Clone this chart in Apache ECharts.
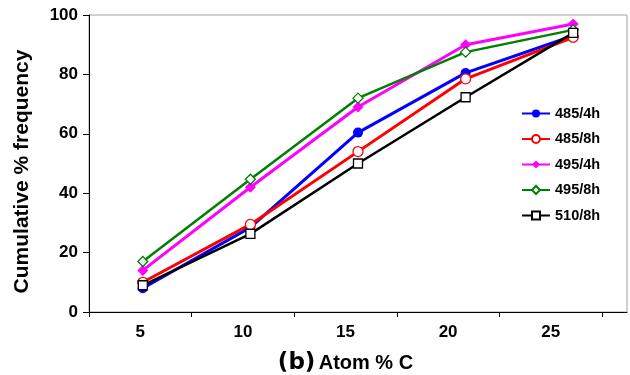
<!DOCTYPE html>
<html><head><meta charset="utf-8">
<script src="https://cdn.jsdelivr.net/npm/echarts@6/dist/echarts.min.js"></script>
<style>html,body{margin:0;padding:0;background:#fff}#c{width:630px;height:375px}</style>
</head><body><div id="c"></div>
<script>
var categories = ['5', '10', '15', '20', '25'];
var yTicks = [0, 20, 40, 60, 80, 100];
var s485_4h = [8, 28.5, 60.4, 80.5, 93];
var s485_8h = [10, 29.5, 54, 78.5, 92.5];
var s495_4h = [14, 42, 69, 90, 97];
var s495_8h = [17, 44.7, 72, 87.5, 95];
var s510_8h = [9, 26.3, 50, 72.3, 94];
var seriesNames = ['485/4h', '485/8h', '495/4h', '495/8h', '510/8h'];

var FONT = "'Liberation Sans', Arial, sans-serif";
var chart = echarts.init(document.getElementById('c'), null, {renderer: 'canvas'});

function mk(name, data, color, symbol, size, open, lw) {
  return {
    name: name, type: 'line', data: data, xAxisIndex: 0, yAxisIndex: 0,
    symbol: symbol, symbolSize: size, showSymbol: true,
    lineStyle: {color: color, width: lw},
    itemStyle: {color: open ? '#fff' : color, borderColor: color, borderWidth: open ? 1.3 : 0},
    emphasis: {disabled: true}, animation: false, z: 3
  };
}

chart.setOption({
  animation: false,
  textStyle: {fontFamily: FONT},
  grid: [
    {left: 89, top: 15, right: 3, bottom: 63, show: true, borderColor: '#a0a0a0', borderWidth: 1,
     containLabel: false, outerBoundsMode: 'none'},
    {left: 89, top: 15, width: 513, bottom: 63, show: false, containLabel: false, outerBoundsMode: 'none'}
  ],
  legend: {
    orient: 'vertical', left: 521, top: 106, padding: 0, itemWidth: 28, itemHeight: 10, itemGap: 10.5,
    data: seriesNames,
    textStyle: {fontFamily: FONT, fontWeight: 'bold', fontSize: 14.5, color: '#000'}
  },
  xAxis: [
    {gridIndex: 0, type: 'category', data: categories, boundaryGap: true,
     axisLine: {show: true, lineStyle: {color: '#000', width: 1}},
     axisTick: {show: false}, axisLabel: {show: false}, splitLine: {show: false}},
    {gridIndex: 1, type: 'category', data: categories, boundaryGap: true,
     axisLine: {show: false},
     axisTick: {show: true, inside: false, length: 5, lineStyle: {color: '#000'}},
     axisLabel: {fontFamily: FONT, fontWeight: 'bold', fontSize: 17, color: '#000', margin: 12},
     name: '{b|(b)} {a|Atom % C}', nameLocation: 'middle', nameGap: 40,
     nameTextStyle: {rich: {
       b: {fontFamily: "'DejaVu Sans', 'Liberation Sans', sans-serif", fontWeight: 'bold', fontSize: 23, color: '#000'},
       a: {fontFamily: FONT, fontWeight: 'bold', fontSize: 20, color: '#000'}
     }}}
  ],
  yAxis: [
    {gridIndex: 0, type: 'value', min: 0, max: 100, interval: 20,
     axisLine: {show: true, lineStyle: {color: '#000', width: 1}},
     axisTick: {show: true, length: 6, lineStyle: {color: '#000'}},
     axisLabel: {fontFamily: FONT, fontWeight: 'bold', fontSize: 17, color: '#000', margin: 11,
       formatter: function (v) { return yTicks.indexOf(v) >= 0 ? String(v) : ''; }},
     splitLine: {show: false},
     name: 'Cumulative % frequency', nameLocation: 'middle', nameGap: 56,
     nameTextStyle: {fontFamily: FONT, fontWeight: 'bold', fontSize: 21, color: '#000', padding: [0, 16, 0, 0]}},
    {gridIndex: 1, type: 'value', min: 0, max: 100, show: false}
  ],
  series: [
    mk('485/4h', s485_4h, '#0000ff', 'circle', 10, false, 3),
    mk('485/8h', s485_8h, '#ff0000', 'circle', 10, true, 3),
    mk('495/4h', s495_4h, '#ff00ff', 'diamond', 11, false, 3),
    mk('495/8h', s495_8h, '#008000', 'diamond', 10, true, 2.5),
    mk('510/8h', s510_8h, '#000000', 'rect', 9, true, 2.5)
  ]
});
</script></body></html>
